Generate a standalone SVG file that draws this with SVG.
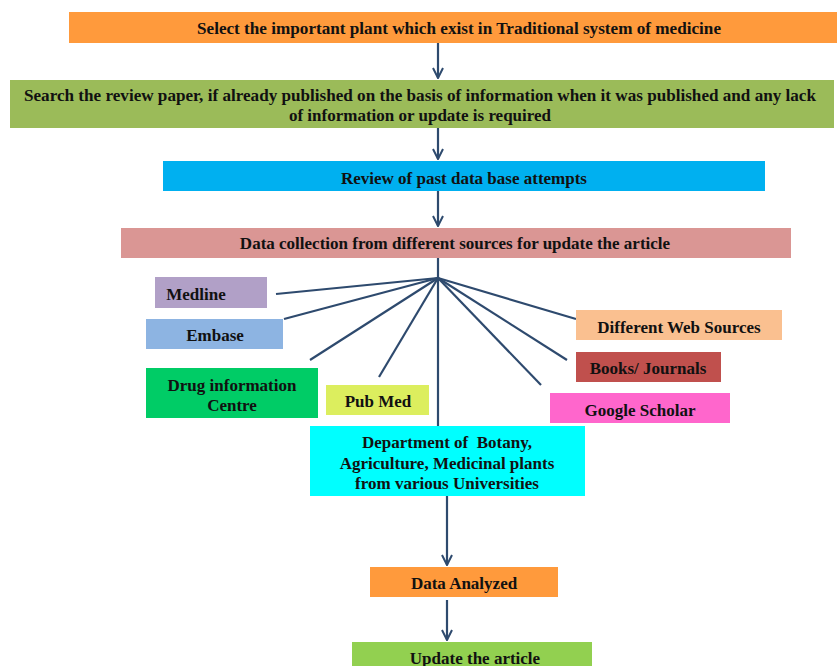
<svg xmlns="http://www.w3.org/2000/svg" width="837" height="666" viewBox="0 0 837 666">
<defs>
<marker id="arr" viewBox="0 0 12 12" refX="11" refY="6" markerWidth="12" markerHeight="12" markerUnits="userSpaceOnUse" orient="auto">
<polyline points="1,1 11,6 1,11" fill="none" stroke="#2E4A6E" stroke-width="2"/>
</marker>
<style>
text{font-family:"Liberation Serif","Times New Roman",serif;font-weight:bold;fill:#111;text-anchor:middle;dominant-baseline:central;font-size:17px;white-space:pre}
.c line{stroke:#2E4A6E;stroke-width:2.2}
</style>
</defs>
<rect width="837" height="666" fill="#fff"/>
<g class="c" id="connectors">
<line x1="438" y1="43" x2="438" y2="78" marker-end="url(#arr)"/>
<line x1="438" y1="128" x2="438" y2="159" marker-end="url(#arr)"/>
<line x1="438" y1="191" x2="438" y2="226" marker-end="url(#arr)"/>
<line x1="438" y1="258" x2="438" y2="426"/>
<line x1="438" y1="278" x2="276" y2="294"/>
<line x1="438" y1="278" x2="284" y2="319"/>
<line x1="438" y1="278" x2="310" y2="360"/>
<line x1="438" y1="278" x2="379" y2="377"/>
<line x1="438" y1="278" x2="576" y2="319"/>
<line x1="438" y1="278" x2="567" y2="360"/>
<line x1="438" y1="278" x2="541" y2="385"/>
<line x1="447" y1="496" x2="447" y2="565" marker-end="url(#arr)"/>
<line x1="447" y1="600" x2="447" y2="640" marker-end="url(#arr)"/>
</g>
<g id="n1"><rect x="69" y="12" width="768" height="31" fill="#FF9A3C"/><text x="459" y="28" textLength="524" lengthAdjust="spacingAndGlyphs">Select the important plant which exist in Traditional system of medicine</text></g>
<g id="n2"><rect x="10" y="80" width="824" height="48" fill="#9BBB59"/><text x="420" y="95" textLength="792" lengthAdjust="spacingAndGlyphs">Search the review paper, if already published on the basis of information when it was published and any lack</text><text x="420" y="115">of information or update is required</text></g>
<g id="n3"><rect x="163" y="161" width="602" height="30" fill="#00B0F0"/><text x="464" y="178">Review of past data base attempts</text></g>
<g id="n4"><rect x="121" y="228" width="670" height="30" fill="#DA9694"/><text x="455" y="243">Data collection from different sources for update the article</text></g>
<g id="n5"><rect x="155" y="277" width="112" height="31" fill="#B1A0C7"/><text x="196" y="294">Medline</text></g>
<g id="n6"><rect x="146" y="319" width="137" height="30" fill="#8DB4E2"/><text x="215" y="335">Embase</text></g>
<g id="n7"><rect x="146" y="368" width="172" height="50" fill="#00CC66"/><text x="232" y="385">Drug information</text><text x="232" y="405">Centre</text></g>
<g id="n8"><rect x="326" y="385" width="103" height="30" fill="#DCEE5E"/><text x="378" y="401">Pub Med</text></g>
<g id="n9"><rect x="576" y="310" width="206" height="30" fill="#FAC090"/><text x="679" y="327">Different Web Sources</text></g>
<g id="n10"><rect x="576" y="352" width="145" height="30" fill="#C0504D"/><text x="648" y="368">Books/ Journals</text></g>
<g id="n11"><rect x="550" y="393" width="180" height="30" fill="#FF66CC"/><text x="640" y="410">Google Scholar</text></g>
<g id="n12"><rect x="310" y="426" width="275" height="70" fill="#00FFFF"/><text x="447" y="442">Department of  Botany,</text><text x="447" y="463">Agriculture, Medicinal plants</text><text x="447" y="483">from various Universities</text></g>
<g id="n13"><rect x="370" y="567" width="188" height="30" fill="#FF9A3C"/><text x="464" y="583">Data Analyzed</text></g>
<g id="n14"><rect x="352" y="642" width="240" height="30" fill="#92D050"/><text x="475" y="658">Update the article</text></g>
</svg>
